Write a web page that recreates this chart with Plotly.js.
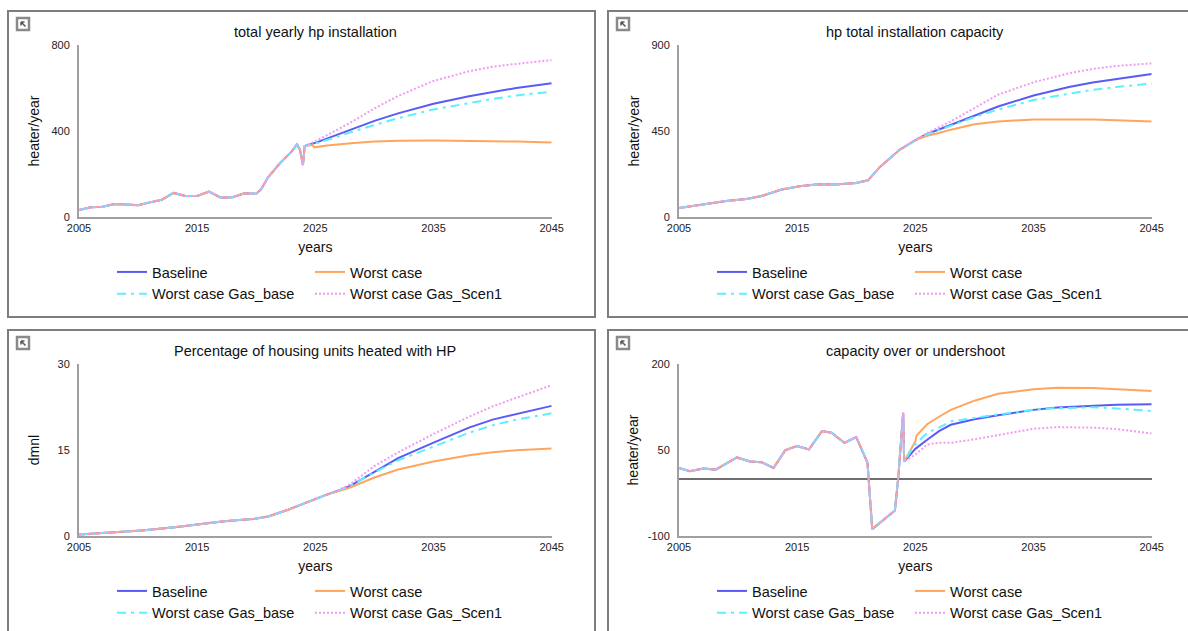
<!DOCTYPE html>
<html><head><meta charset="utf-8">
<script src="https://cdn.plot.ly/plotly-3.0.1.min.js"></script>
<style>html,body{margin:0;padding:0;background:#fff;overflow:hidden}#chart{width:1188px;height:631px}</style>
</head><body><div id="chart"></div>
<script>
// ---------- data ----------
const SERIES_NAMES = ['Baseline', 'Worst case', 'Worst case Gas_base', 'Worst case Gas_Scen1'];
const X_TICKS = [2005, 2015, 2025, 2035, 2045];
const X_LABEL = 'years';

// Panel 1: total yearly hp installation
const P1_TITLE = 'total yearly hp installation';
const P1_YLABEL = 'heater/year';
const P1_YTICKS = [0, 400, 800];
const P1_HIST_X = [2005, 2006, 2007, 2008, 2009, 2010, 2011, 2012, 2013, 2014, 2015, 2016, 2017, 2018, 2019, 2020, 2020.4, 2021, 2022, 2023, 2023.45, 2023.7, 2023.95, 2024.1];
const P1_HIST_Y = [33, 45, 48, 60, 58, 55, 68, 80, 112, 98, 98, 118, 90, 92, 110, 108, 128, 185, 250, 305, 338, 312, 242, 330];
const P1_FUT_X = [2025, 2026, 2027, 2028, 2030, 2032, 2035, 2038, 2040, 2042, 2045];
const P1_BASELINE = [345, 366, 386, 408, 447, 482, 527, 562, 582, 600, 622];
const P1_WORST_X = [2024.75, 2024.9, 2026, 2027, 2028, 2030, 2032, 2035, 2038, 2040, 2042, 2045];
const P1_WORST = [335, 324, 333, 339, 343, 351, 355, 356, 355, 353, 351, 347];
const P1_GASBASE = [342, 358, 375, 395, 428, 460, 500, 531, 549, 565, 583];
const P1_SCEN1 = [352, 380, 410, 440, 505, 563, 633, 678, 699, 712, 730];

// Panel 2: hp total installation capacity
const P2_TITLE = 'hp total installation capacity';
const P2_YLABEL = 'heater/year';
const P2_YTICKS = [0, 450, 900];
const P2_HIST_X = [2005, 2007, 2009, 2010.7, 2012, 2013.7, 2015.2, 2016.8, 2018.2, 2020, 2021, 2022, 2023.7, 2025];
const P2_HIST_Y = [47, 65, 84, 94, 110, 144, 161, 171, 170, 178, 192, 262, 353, 402];
const P2_FUT_X = [2026, 2027, 2028, 2030, 2032, 2035, 2038, 2040, 2042, 2045];
const P2_BASELINE = [435, 458, 482, 530, 578, 636, 680, 704, 722, 748];
const P2_WORST = [425, 440, 457, 485, 500, 510, 511, 510, 506, 500];
const P2_GASBASE = [433, 455, 478, 523, 562, 612, 645, 665, 680, 699];
const P2_SCEN1 = [440, 470, 500, 570, 640, 705, 752, 775, 790, 804];

// Panel 3: Percentage of housing units heated with HP
const P3_TITLE = 'Percentage of housing units heated with HP';
const P3_YLABEL = 'dmnl';
const P3_YTICKS = [0, 15, 30];
const P3_HIST_X = [2005, 2007.5, 2010.3, 2013.1, 2015.4, 2017.3, 2019.9, 2021, 2022.7, 2025, 2026];
const P3_HIST_Y = [0.26, 0.55, 0.96, 1.54, 2.13, 2.59, 3.0, 3.41, 4.58, 6.5, 7.25];
const P3_FUT_X = [2027, 2028, 2030, 2032, 2035, 2038, 2040, 2042, 2045];
const P3_BASELINE = [7.95, 8.8, 11.2, 13.6, 16.3, 18.9, 20.3, 21.3, 22.7];
const P3_WORST = [7.85, 8.5, 10.2, 11.6, 13.0, 14.1, 14.6, 14.95, 15.25];
const P3_GASBASE = [7.95, 8.8, 11.1, 13.2, 15.6, 18.0, 19.3, 20.3, 21.4];
const P3_SCEN1 = [8.05, 9.1, 12.2, 14.6, 17.8, 20.8, 22.6, 24.1, 26.3];

// Panel 4: capacity over or undershoot
const P4_TITLE = 'capacity over or undershoot';
const P4_YLABEL = 'heater/year';
const P4_YTICKS = [-100, 50, 200];
const P4_HIST_X = [2005, 2005.9, 2007.06, 2008.1, 2009.9, 2011, 2012, 2013, 2014, 2015, 2016, 2017.1, 2017.9, 2019, 2020, 2020.95, 2021.35, 2023.27, 2023.55, 2023.97, 2024.05];
const P4_HIST_Y = [18.8, 13, 17.6, 15.8, 37, 30, 28.6, 18.8, 49.7, 56.7, 51, 83, 80, 62.6, 72.5, 27.6, -88, -55.5, 1.2, 115, 30];
const P4_FUT_X = [2025, 2026, 2027, 2028, 2030, 2032, 2035, 2037, 2040, 2042, 2045];
const P4_BASELINE = [52, 68, 83, 94, 103.5, 110.5, 120, 124, 127.5, 129, 130];
const P4_WORST_X = [2025, 2025.1, 2026, 2027, 2028, 2030, 2032, 2035, 2037, 2040, 2042, 2045];
const P4_WORST = [65, 75, 95, 108, 120, 136, 148, 156, 158.5, 158, 156.5, 153];
const P4_GASBASE = [60, 80, 89, 100, 106.5, 112, 120.5, 123, 124.5, 122.5, 118];
const P4_SCEN1 = [42, 59.6, 62.6, 62.6, 68.5, 76, 87, 90, 89, 86.5, 79];

// ---------- styling / layout ----------
const W = 1188, H = 631;
const FONT = 'Liberation Sans, Arial, sans-serif';
const STYLES = [
  {color: '#5a5af6', dash: 'solid', width: 2},
  {color: '#ffa55e', dash: 'solid', width: 2},
  {color: '#5cefff', dash: '9px,5px,3px,5px', width: 2},
  {color: '#f19af1', dash: '2px,2px', width: 2}
];
const px = x => x / W;
const py = y => 1 - y / H;

const panels = [
  {title: P1_TITLE, ylab: P1_YLABEL, yt: P1_YTICKS, hx: P1_HIST_X, hy: P1_HIST_Y,
   series: [[P1_FUT_X, P1_BASELINE], [P1_WORST_X, P1_WORST], [P1_FUT_X, P1_GASBASE], [P1_FUT_X, P1_SCEN1]],
   dx: 0, dy: 0, zero: false, ystand: 9},
  {title: P2_TITLE, ylab: P2_YLABEL, yt: P2_YTICKS, hx: P2_HIST_X, hy: P2_HIST_Y,
   series: [[P2_FUT_X, P2_BASELINE], [P2_FUT_X, P2_WORST], [P2_FUT_X, P2_GASBASE], [P2_FUT_X, P2_SCEN1]],
   dx: 600, dy: 0, zero: false, ystand: 9},
  {title: P3_TITLE, ylab: P3_YLABEL, yt: P3_YTICKS, hx: P3_HIST_X, hy: P3_HIST_Y,
   series: [[P3_FUT_X, P3_BASELINE], [P3_FUT_X, P3_WORST], [P3_FUT_X, P3_GASBASE], [P3_FUT_X, P3_SCEN1]],
   dx: 0, dy: 319, zero: false, ystand: 15},
  {title: P4_TITLE, ylab: P4_YLABEL, yt: P4_YTICKS, hx: P4_HIST_X, hy: P4_HIST_Y,
   series: [[P4_FUT_X, P4_BASELINE], [P4_WORST_X, P4_WORST], [P4_FUT_X, P4_GASBASE], [P4_FUT_X, P4_SCEN1]],
   dx: 600, dy: 319, zero: true, ystand: 6}
];

const traces = [];
const layout = {
  width: W, height: H, margin: {l: 0, r: 0, t: 0, b: 0},
  paper_bgcolor: '#fff', plot_bgcolor: 'rgba(0,0,0,0)',
  font: {family: FONT, color: '#111'},
  shapes: [], annotations: [], showlegend: true
};

panels.forEach((p, k) => {
  const n = k + 1;
  const xa = 'x' + (n === 1 ? '' : n), ya = 'y' + (n === 1 ? '' : n);
  const xKey = 'xaxis' + (n === 1 ? '' : n), yKey = 'yaxis' + (n === 1 ? '' : n);
  const L = 79 + p.dx, R = 551.7 + p.dx, T = 45 + p.dy, B = 217 + p.dy;
  layout[xKey] = {
    domain: [px(L), px(R)], anchor: ya, range: [2005, 2045],
    tickmode: 'array', tickvals: X_TICKS, ticktext: X_TICKS.map(String),
    showgrid: false, zeroline: false, showline: true, linecolor: '#a0a0a0', linewidth: 2,
    ticks: '', tickfont: {family: FONT, size: 11, color: '#222'},
    title: {text: X_LABEL, font: {family: FONT, size: 14, color: '#111'}, standoff: 9},
    fixedrange: true
  };
  layout[yKey] = {
    domain: [py(B), py(T)], anchor: xa, range: [p.yt[0], p.yt[2]],
    tickmode: 'array', tickvals: p.yt, ticktext: p.yt.map(String),
    showgrid: false, zeroline: p.zero, zerolinecolor: '#6e6e6e', zerolinewidth: 2,
    showline: true, linecolor: '#a0a0a0', linewidth: 2,
    ticks: '', ticklabelstandoff: 5, tickfont: {family: FONT, size: 11, color: '#222'},
    title: {text: p.ylab, font: {family: FONT, size: 14, color: '#111'}, standoff: p.ystand},
    fixedrange: true
  };
  // legends: two columns per panel
  const lg1 = 'legend' + (2 * k + 1 === 1 ? '' : 2 * k + 1);
  const lg2 = 'legend' + (2 * k + 2);
  [[lg1, 112], [lg2, 310]].forEach(([key, lx]) => {
    layout[key] = {
      x: px(lx + p.dx), y: py(256 + p.dy), xanchor: 'left', yanchor: 'top',
      orientation: 'v', bgcolor: 'rgba(0,0,0,0)', borderwidth: 0,
      font: {family: FONT, size: 14.5, color: '#111'}, itemwidth: 30
    };
  });
  p.series.forEach((s, i) => {
    traces.push({
      type: 'scatter', mode: 'lines', name: SERIES_NAMES[i],
      x: p.hx.concat(s[0]), y: p.hy.concat(s[1]),
      xaxis: xa, yaxis: ya, legend: (i % 2 === 0) ? lg1 : lg2,
      line: {color: STYLES[i].color, dash: STYLES[i].dash, width: STYLES[i].width},
      hoverinfo: 'skip'
    });
  });
  // panel title
  layout.annotations.push({
    text: p.title, xref: 'paper', yref: 'paper', x: px((L + R) / 2), y: py(32 + p.dy),
    xanchor: 'center', yanchor: 'middle', showarrow: false,
    font: {family: FONT, size: 14.5, color: '#111'}
  });
  // frame
  const fx0 = 8 + p.dx, fx1 = p.dx ? 1195 : 595;
  const fy0 = 11 + p.dy, fy1 = p.dy ? 640 : 317;
  layout.shapes.push({type: 'rect', xref: 'paper', yref: 'paper', x0: px(fx0), x1: px(fx1), y0: py(fy0), y1: py(fy1),
    line: {color: '#7d7d7d', width: 2}, fillcolor: 'rgba(0,0,0,0)', layer: 'below'});
  // icon
  const ix = 17 + p.dx, iy = 18 + p.dy;
  layout.shapes.push({type: 'rect', xref: 'paper', yref: 'paper', x0: px(ix), x1: px(ix + 12), y0: py(iy), y1: py(iy + 12),
    line: {color: '#8a8a8a', width: 2.5}, fillcolor: '#fff'});
  layout.shapes.push({type: 'path', xref: 'paper', yref: 'paper',
    path: `M ${px(ix + 4)} ${py(iy + 4)} L ${px(ix + 8.5)} ${py(iy + 8.5)} M ${px(ix + 4)} ${py(iy + 4)} L ${px(ix + 7.5)} ${py(iy + 4)} M ${px(ix + 4)} ${py(iy + 4)} L ${px(ix + 4)} ${py(iy + 7.5)}`,
    line: {color: '#555', width: 1.5}});
});

Plotly.newPlot('chart', traces, layout, {staticPlot: true, displayModeBar: false});
</script>
</body></html>
